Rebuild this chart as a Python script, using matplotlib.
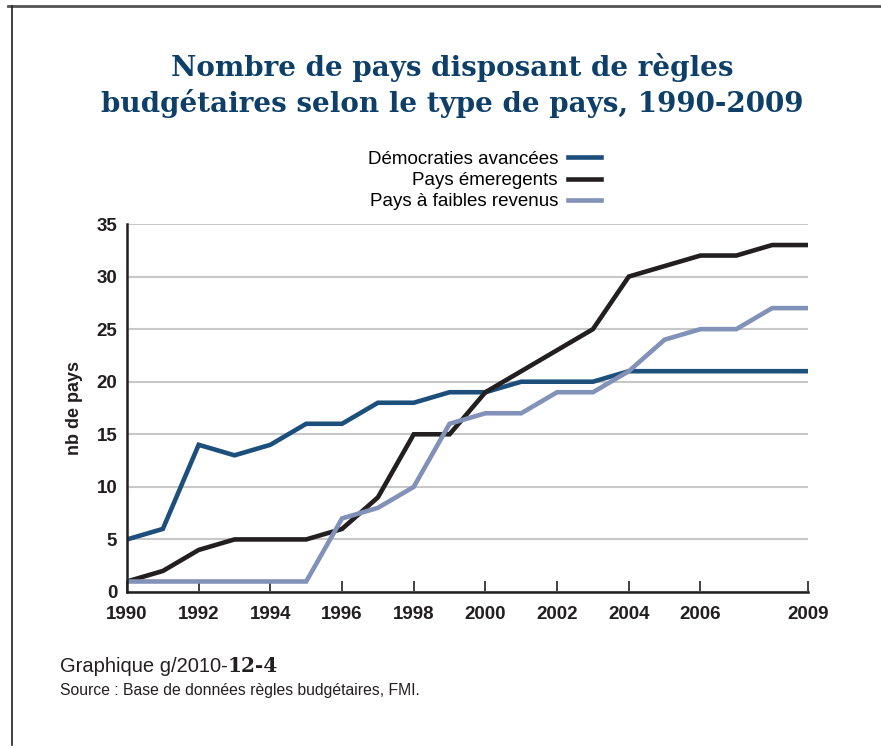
import numpy as np
import matplotlib.pyplot as plt
from matplotlib.lines import Line2D

years = list(range(1990, 2010))
democraties = [5, 6, 14, 13, 14, 16, 16, 18, 18, 19, 19, 20, 20, 20, 21, 21, 21, 21, 21, 21]
emergents = [1, 2, 4, 5, 5, 5, 6, 9, 15, 15, 19, 21, 23, 25, 30, 31, 32, 32, 33, 33]
faibles = [1, 1, 1, 1, 1, 1, 7, 8, 10, 16, 17, 17, 19, 19, 21, 24, 25, 25, 27, 27]
labels = ['Démocraties avancées', 'Pays émeregents', 'Pays à faibles revenus']
colors = ['#1d4f7c', '#231f20', '#8191b8']
xticks = [1990, 1992, 1994, 1996, 1998, 2000, 2002, 2004, 2006, 2009]
yticks = [0, 5, 10, 15, 20, 25, 30, 35]

plt.rcParams['font.family'] = ['Liberation Sans', 'DejaVu Sans']

W, H = 881, 748
fig = plt.figure(figsize=(W/100, H/100), dpi=100)
ax = fig.add_axes([127/W, 1-592/H, (808-127)/W, (592-224)/H])

for vals, lab, c in zip([democraties, emergents, faibles], labels, colors):
    ax.plot(years, vals, color=c, lw=3.3, label=lab, solid_joinstyle='miter')

ax.set_xlim(1990, 2009)
ax.set_ylim(0, 35)
ax.set_xticks(xticks)
ax.set_xticklabels([str(x) for x in xticks], fontsize=13.5, fontweight='bold', color='#231f20')
ax.set_yticks(yticks)
ax.set_yticklabels([str(y) for y in yticks], fontsize=13.5, fontweight='bold', color='#231f20')
ax.tick_params(axis='x', direction='in', length=8, width=1.2, pad=10, color='#231f20')
ax.tick_params(axis='y', length=0, pad=7)
ax.grid(axis='y', color='#c8c8c8', lw=1.5)
ax.set_axisbelow(True)
for s in ['top', 'right']:
    ax.spines[s].set_visible(False)
for s in ['left', 'bottom']:
    ax.spines[s].set_linewidth(1.8)
    ax.spines[s].set_color('#231f20')
ax.set_ylabel('nb de pays', fontsize=13, fontweight='bold', color='#231f20', labelpad=10)

handles = [Line2D([0], [0], color=c, lw=3.3) for c in colors]
leg = fig.legend(handles, labels, loc='upper right', bbox_to_anchor=(618/W, 1-134/H),
                 frameon=False, markerfirst=False, fontsize=13.5, handlelength=1.75,
                 handletextpad=0.55, labelspacing=0.22)
for t in leg.get_texts():
    t.set_ha('right')

fig.text(452/W, 1-68/H, 'Nombre de pays disposant de règles', ha='center', va='center',
         fontsize=20, fontweight='bold', family='DejaVu Serif', color='#0d3f69')
fig.text(452/W, 1-103/H, 'budgétaires selon le type de pays, 1990-2009', ha='center', va='center',
         fontsize=20, fontweight='bold', family='DejaVu Serif', color='#0d3f69')

t1 = fig.text(60/W, 1-666/H, 'Graphique g/2010-', ha='left', va='center', fontsize=14.5, color='#231f20')
fig.canvas.draw()
bb = t1.get_window_extent()
fig.text(bb.x1/W, 1-666/H, '12-4', ha='left', va='center', fontsize=14.5, fontweight='bold',
         family='DejaVu Serif', color='#231f20')
fig.text(60/W, 1-690/H, 'Source : Base de données règles budgétaires, FMI.', ha='left', va='center',
         fontsize=11.3, color='#231f20')

# frame around the figure
fig.add_artist(Line2D([8/W, 1], [1-6/H, 1-6/H], color='#555555', lw=2))
fig.add_artist(Line2D([12/W, 12/W], [1-6/H, 1-745/H], color='#231f20', lw=1.2))

fig.savefig('out.png', dpi=100)
